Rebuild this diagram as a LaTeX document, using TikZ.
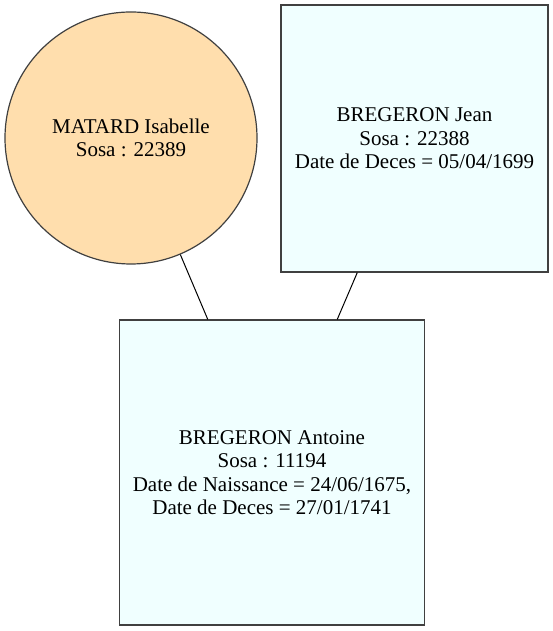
\documentclass[tikz,border=0pt]{standalone}
\usepackage{fontspec}
\setmainfont{Liberation Serif}
\definecolor{navajo}{HTML}{FFDEAD}
\definecolor{azur}{HTML}{F0FFFF}
\begin{document}
\begin{tikzpicture}[x=1pt,y=1pt,
    person/.style={draw=black!75, line width=1.2pt, align=center, inner sep=0pt,
        font=\fontsize{21}{23.5}\selectfont},
    link/.style={line width=1pt}]
            \useasboundingbox (0,0) rectangle (552,631);
            \node (isabelle) at (131,493) [person, circle, fill=navajo, minimum size=252pt] {MATARD Isabelle\\Sosa : 22389};
            \node (jean) at (414.5,492.5) [person, rectangle, fill=azur, minimum size=267pt] {BREGERON Jean\\Sosa : 22388\\Date de Deces = 05/04/1699};
            \node (antoine) at (272,158.5) [person, rectangle, fill=azur, minimum size=305pt] {BREGERON Antoine\\Sosa : 11194\\Date de Naissance = 24/06/1675,\\Date de Deces = 27/01/1741};
            \draw[link] (isabelle) -- (antoine);
            \draw[link] (jean) -- (antoine);
        \end{tikzpicture}
\end{document}
